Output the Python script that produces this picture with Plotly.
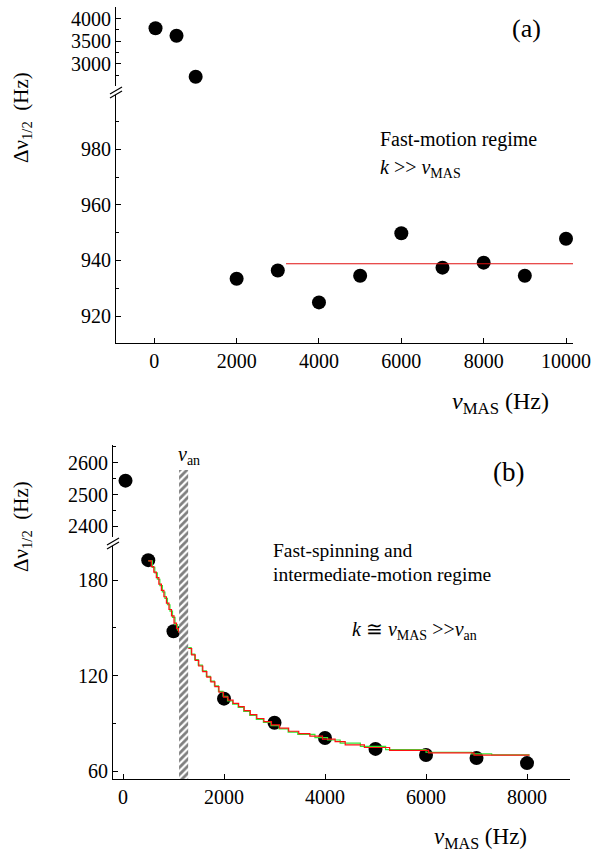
import plotly.graph_objects as go

W, H = 594, 854
FONT = "Liberation Serif, Times New Roman, Times, serif"

# ---------------- data: panel (a) ----------------
a_slow_x = [30, 540, 1005]
a_slow_y = [3785, 3622, 2721]
a_fast_x = [2000, 3000, 4000, 5000, 6000, 7000, 8000, 9000, 10000]
a_fast_y = [933.4, 936.4, 924.9, 934.5, 949.8, 937.4, 939.2, 934.5, 947.8]
a_fit_x = [3200, 10170]
a_fit_y = [938.8, 938.8]

# ---------------- data: panel (b) ----------------
b_high_x = [50]
b_high_y = [2544]
b_low_x = [500, 1000, 2000, 3000, 4000, 5000, 6000, 7000, 8000]
b_low_y = [192.5, 147.8, 105.5, 90.3, 80.8, 73.9, 70.1, 68.2, 65.0]

red_x = [500, 560, 610, 660, 710, 760, 810, 860, 910, 960, 1010, 1060, 1100, None,
         1290, 1360, 1430, 1500, 1580, 1660, 1740, 1820, 1900, 1990, 2080, 2180, 2290,
         2400, 2520, 2650, 2790, 2940, 3100, 3280, 3480, 3700, 3950, 4200, 4400, 4780,
         5280, 6050, 6950, 8050]
red_y = [192, 188.5, 185, 181.5, 177.5, 173.5, 169.5, 165.5, 161.5, 157.5, 153, 149.5, 147, None,
         137, 133, 129.5, 126, 122.5, 119, 116, 113, 109.5, 106.5, 104.5, 102.5, 100.5,
         98, 95.5, 93, 91, 89, 87, 85, 83.5, 82, 80, 78.5, 76.5, 74.8,
         73.0, 71.4, 70.0, 70.0]
green_x = [500, 580, 630, 680, 730, 780, 830, 880, 930, 980, 1030, 1080, 1100, None,
           1290, 1350, 1420, 1490, 1570, 1650, 1730, 1810, 1890, 1980, 2070, 2170, 2280,
           2390, 2510, 2640, 2780, 2930, 3090, 3270, 3460, 3800, 4050, 4300, 4700,
           5200, 6000, 6900, 7300, 8050]
green_y = [192, 188, 184.5, 180.5, 176.5, 172.5, 168.5, 164.5, 160.5, 156.5, 152, 148.5, 147, None,
           137.5, 133.5, 130, 126.5, 123, 119.5, 116.5, 113.5, 110, 107, 104, 102, 100,
           97.5, 95, 92.5, 90.5, 88.5, 86.5, 84.5, 83, 81, 79.5, 77.5, 75.5,
           73.5, 71.8, 70.8, 70.2, 70.2]

# anisotropy (nu_an) band
van_band_x = [1110, 1290]
van_band_top = 0.925

# tick values
a_hi_ticks = [3000, 3500, 4000]
a_lo_ticks = [920, 940, 960, 980]
a_x_ticks = [0, 2000, 4000, 6000, 8000, 10000]
b_hi_ticks = [2400, 2500, 2600]
b_lo_ticks = [60, 120, 180]
b_x_ticks = [0, 2000, 4000, 6000, 8000]


def px(x):
    return x / W


def py(y):
    return 1 - y / H


fig = go.Figure()

# hatched band (drawn first, underneath)
fig.add_trace(go.Scatter(
    x=[van_band_x[0], van_band_x[1], van_band_x[1], van_band_x[0], van_band_x[0]],
    y=[0, 0, van_band_top, van_band_top, 0],
    mode="lines", line=dict(width=0), fill="toself", fillcolor="white",
    fillpattern=dict(shape="/", fgcolor="black", bgcolor="white", size=5, solidity=0.55),
    xaxis="x2", yaxis="y5"))

dot = dict(color="black", size=14)

# panel (a)
fig.add_trace(go.Scatter(x=a_slow_x, y=a_slow_y, mode="markers", marker=dot, xaxis="x", yaxis="y2"))
fig.add_trace(go.Scatter(x=a_fast_x, y=a_fast_y, mode="markers", marker=dot, xaxis="x", yaxis="y"))
fig.add_trace(go.Scatter(x=a_fit_x, y=a_fit_y, mode="lines", line=dict(color="#e01010", width=1.2),
                         xaxis="x", yaxis="y"))

# panel (b)
fig.add_trace(go.Scatter(x=b_high_x, y=b_high_y, mode="markers", marker=dot, xaxis="x2", yaxis="y4"))
fig.add_trace(go.Scatter(x=b_low_x, y=b_low_y, mode="markers", marker=dot, xaxis="x2", yaxis="y3"))
fig.add_trace(go.Scatter(x=green_x, y=green_y, mode="lines", line=dict(color="#33e633", width=1.2, shape="hv"),
                         connectgaps=False, xaxis="x2", yaxis="y3"))
fig.add_trace(go.Scatter(x=red_x, y=red_y, mode="lines", line=dict(color="#ff1010", width=1.2, shape="hv"),
                         connectgaps=False, xaxis="x2", yaxis="y3"))

tickfont = dict(family=FONT, size=20, color="black")
common = dict(showline=True, linecolor="black", linewidth=1.2, ticks="inside", ticklen=5,
              tickcolor="black", tickwidth=1, showgrid=False, zeroline=False, tickfont=tickfont,
              tickformat="d", automargin=False)

fig.update_layout(
    width=W, height=H, margin=dict(l=0, r=0, t=0, b=0, autoexpand=False),
    paper_bgcolor="white", plot_bgcolor="rgba(0,0,0,0)", showlegend=False,
    font=dict(family=FONT, color="black"),
    xaxis=dict(domain=[px(116), px(573)], range=[-930, 10170], anchor="y",
               tickvals=a_x_ticks, **common),
    yaxis=dict(domain=[py(343), py(95)], range=[910.3, 999.5], anchor="x",
               tickvals=a_lo_ticks, minor=dict(dtick=10, ticks="inside", ticklen=3, tickcolor="black"),
               **common),
    yaxis2=dict(domain=[py(86), py(7)], range=[2516, 4253], anchor="x",
                tickvals=a_hi_ticks, minor=dict(dtick=250, ticks="inside", ticklen=3, tickcolor="black"),
                **common),
    xaxis2=dict(domain=[px(113), px(570)], range=[-198, 8851], anchor="y3",
                tickvals=b_x_ticks, **common),
    yaxis3=dict(domain=[py(779), py(546)], range=[55, 201.4], anchor="x2",
                tickvals=b_lo_ticks, minor=dict(dtick=30, ticks="inside", ticklen=3, tickcolor="black"),
                **common),
    yaxis4=dict(domain=[py(537), py(445)], range=[2367, 2656], anchor="x2",
                tickvals=b_hi_ticks, minor=dict(dtick=50, ticks="inside", ticklen=3, tickcolor="black"),
                **common),
    yaxis5=dict(domain=[py(779), py(445)], range=[0, 1], anchor="x2", visible=False),
)

# break marks
shapes = []
for (x0, y0, x1, y1) in [(110, 94, 122, 87), (110, 98, 122, 91),
                         (107, 545, 119, 538), (107, 549, 119, 542)]:
    shapes.append(dict(type="line", xref="paper", yref="paper",
                       x0=px(x0), y0=py(y0), x1=px(x1), y1=py(y1),
                       line=dict(color="black", width=1.2)))
fig.update_layout(shapes=shapes)


def ann(x, y, text, size, xanchor="center", angle=0):
    fig.add_annotation(x=px(x), y=py(y), xref="paper", yref="paper", text=text, showarrow=False,
                       xanchor=xanchor, yanchor="middle", textangle=angle,
                       font=dict(family=FONT, size=size, color="black"))


ann(526, 28, "(a)", 26)
ann(378, 140, "Fast-motion regime", 20, "left")
ann(378, 168, "<i>k</i> &gt;&gt; <i>ν</i><sub>MAS</sub>", 20, "left")
ann(22, 118, "Δν<sub>1/2</sub>  (Hz)", 21, angle=-90)
ann(500, 403, "<i>ν</i><sub>MAS</sub> (Hz)", 24)

ann(508, 472, "(b)", 27)
ann(189, 455, "<i>ν</i><sub>an</sub>", 20)
ann(271, 550, "Fast-spinning and", 19.5, "left")
ann(271, 574, "intermediate-motion regime", 19.5, "left")
ann(350, 630, "<i>k</i> ≅ <i>ν</i><sub>MAS</sub> &gt;&gt;<i>ν</i><sub>an</sub>", 20, "left")
ann(22, 527, "Δν<sub>1/2</sub>  (Hz)", 21, angle=-90)
ann(480, 838, "<i>ν</i><sub>MAS</sub> (Hz)", 23)

fig.write_html("out.html")
